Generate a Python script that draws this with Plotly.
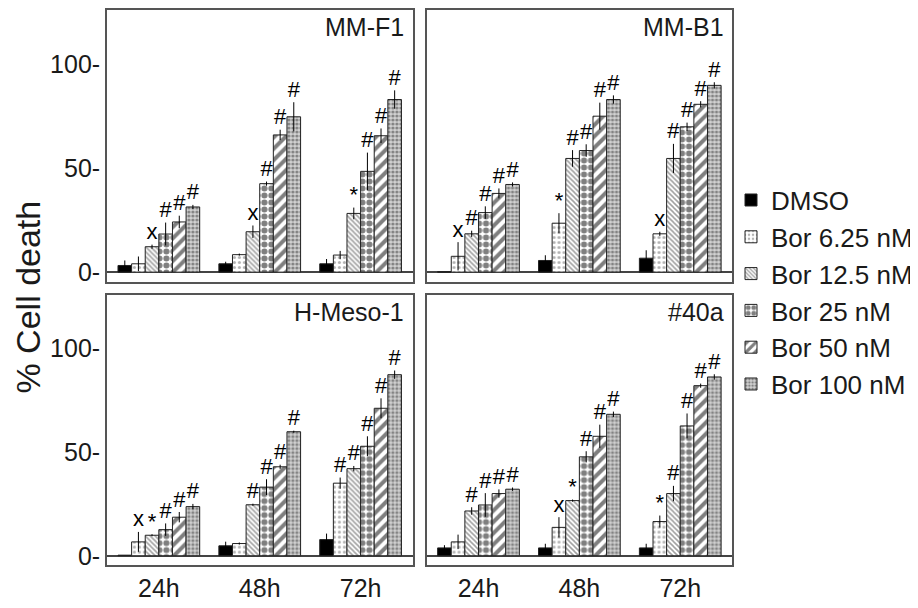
import numpy as np
import plotly.graph_objects as go
from plotly.subplots import make_subplots

times = ["24h", "48h", "72h"]
series_names = ["DMSO", "Bor 6.25 nM", "Bor 12.5 nM", "Bor 25 nM", "Bor 50 nM", "Bor 100 nM"]
panels = ["MM-F1", "MM-B1", "H-Meso-1", "#40a"]

# values[panel][series] -> [24h, 48h, 72h]
mmf1_vals = [[3.2, 4.0, 4.0], [4.0, 8.4, 8.2], [12.2, 19.4, 28.2], [18.3, 42.5, 48.4], [24.1, 65.9, 65.5], [31.3, 74.6, 82.9]]
mmf1_err = [[2.4, 1.0, 2.3], [3.5, 0.5, 2.0], [1.0, 3.0, 2.8], [5.5, 1.0, 9.0], [3.0, 2.5, 3.5], [1.0, 7.0, 4.4]]
mmf1_sig = [["", "", ""], ["", "", ""], ["x", "x", "*"], ["#", "#", "#"], ["#", "#", "#"], ["#", "#", "#"]]

mmb1_vals = [[0.2, 5.6, 6.7], [7.6, 23.5, 18.4], [18.4, 54.6, 54.6], [28.6, 58.4, 69.8], [37.8, 74.9, 80.6], [42.1, 82.9, 89.7]]
mmb1_err = [[0.0, 2.5, 3.8], [6.8, 4.8, 1.0], [1.5, 4.0, 7.0], [3.0, 3.0, 2.0], [2.4, 6.5, 1.5], [1.0, 2.0, 1.5]]
mmb1_sig = [["", "", ""], ["x", "*", "x"], ["#", "#", "#"], ["#", "#", "#"], ["#", "#", "#"], ["#", "#", "#"]]

hmeso_vals = [[0.3, 4.8, 7.8], [6.7, 5.9, 35.0], [9.9, 24.6, 42.0], [12.6, 33.1, 52.8], [18.6, 42.9, 71.1], [23.7, 59.8, 87.3]]
hmeso_err = [[0.0, 2.0, 2.9], [4.8, 0.5, 2.7], [0.5, 0.5, 1.3], [3.0, 3.8, 4.8], [2.5, 1.0, 4.8], [1.3, 0.5, 2.0]]
hmeso_sig = [["", "", ""], ["x", "", "#"], ["*", "#", "#"], ["#", "#", "#"], ["#", "#", "#"], ["#", "#", "#"]]

a40_vals = [[3.8, 3.8, 3.8], [6.7, 13.7, 16.5], [21.6, 26.6, 30.0], [24.5, 47.7, 62.6], [30.0, 57.6, 82.0], [32.1, 68.2, 86.2]]
a40_err = [[1.3, 2.0, 2.0], [3.5, 4.9, 2.9], [1.8, 0.5, 3.7], [5.7, 2.7, 6.0], [2.0, 5.6, 1.0], [0.8, 1.3, 1.3]]
a40_sig = [["", "", ""], ["", "x", "*"], ["#", "*", "#"], ["#", "#", "#"], ["#", "#", "#"], ["#", "#", "#"]]

yticks = [0, 50, 100]
ytick_labels = ["0-", "50-", "100-"]

all_vals = [mmf1_vals, mmb1_vals, hmeso_vals, a40_vals]
all_err = [mmf1_err, mmb1_err, hmeso_err, a40_err]
all_sig = [mmf1_sig, mmb1_sig, hmeso_sig, a40_sig]

FONT = "Arial, Liberation Sans, sans-serif"
TXT = "#1a1a1a"

fills = [
    dict(color="black"),
    dict(color="white", pattern=dict(shape=".", fgcolor="#666", bgcolor="white", size=5, solidity=0.3)),
    dict(color="white", pattern=dict(shape="\\", fgcolor="#444", bgcolor="white", size=3.5, solidity=0.45)),
    dict(color="white", pattern=dict(shape=".", fgcolor="black", bgcolor="white", size=7, solidity=0.6)),
    dict(color="white", pattern=dict(shape="/", fgcolor="black", bgcolor="white", size=8, solidity=0.5)),
    dict(color="white", pattern=dict(shape=".", fgcolor="#333", bgcolor="#d2d2d2", size=4, solidity=0.5)),
]

fig = make_subplots(rows=2, cols=2)

# the page body has an 8px margin; figure coords = page coords - 8
FW = 910.0
FH = 600.0
xdoms = [[99 / FW, 405 / FW], [419 / FW, 725 / FW]]
ydoms = [[1 - 275 / FH, 1 - 1 / FH], [1 - 561 / FH, 1 - 288 / FH]]

bw = 0.135
xbase = np.arange(len(times))

for p in range(4):
    r = p // 2 + 1
    c = p % 2 + 1
    for s in range(6):
        xs = xbase + (s - 2.5) * bw
        fig.add_trace(go.Bar(
            x=xs, y=all_vals[p][s], width=bw,
            marker=dict(line=dict(color="#222", width=1), **fills[s]),
            error_y=dict(type="data", array=all_err[p][s], visible=True, color="black", thickness=1, width=0),
            name=series_names[s], legendgroup=series_names[s], showlegend=(p == 0),
        ), row=r, col=c)
        tops = np.array(all_vals[p][s]) + np.array(all_err[p][s])
        fig.add_trace(go.Scatter(
            x=xs, y=tops, mode="text", text=all_sig[p][s], textposition="top center",
            textfont=dict(family=FONT, size=22, color="black"), showlegend=False, hoverinfo="skip",
        ), row=r, col=c)

for p in range(4):
    r = p // 2 + 1
    c = p % 2 + 1
    idx = p + 1
    xa = "xaxis" if idx == 1 else f"xaxis{idx}"
    ya = "yaxis" if idx == 1 else f"yaxis{idx}"
    fig.layout[xa].update(
        domain=xdoms[c - 1], range=[-0.515, 2.515], tickvals=list(xbase), ticktext=times,
        showticklabels=(r == 2), ticks="", showline=True, mirror=True, linecolor="#555", linewidth=1.5,
        showgrid=False, zeroline=False, tickfont=dict(family=FONT, size=25, color=TXT),
    )
    fig.layout[ya].update(
        domain=ydoms[r - 1], range=[-4.6, 125.9], tickvals=yticks, ticktext=ytick_labels,
        showticklabels=(c == 1), ticks="", showline=True, mirror=True, linecolor="#555", linewidth=1.5,
        showgrid=False, zeroline=True, zerolinecolor="#444", zerolinewidth=1.5,
        tickfont=dict(family=FONT, size=25, color=TXT), ticklabelstandoff=0,
    )
    fig.add_annotation(
        text=panels[p], xref=f"{'x' if idx == 1 else 'x' + str(idx)} domain",
        yref=f"{'y' if idx == 1 else 'y' + str(idx)} domain",
        x=0.98, y=0.995, xanchor="right", yanchor="top", showarrow=False,
        font=dict(family=FONT, size=25, color=TXT),
    )

fig.add_annotation(
    text="% Cell death", xref="paper", yref="paper", x=20 / FW, y=1 - 290 / FH,
    textangle=-90, showarrow=False, font=dict(family=FONT, size=34, color=TXT),
    xanchor="center", yanchor="middle",
)

fig.update_layout(
    width=910, height=600, margin=dict(l=0, r=0, t=0, b=0),
    paper_bgcolor="white", plot_bgcolor="white", barmode="overlay",
    showlegend=True,
    legend=dict(x=724 / FW, y=1 - 169 / FH, xanchor="left", yanchor="top",
                font=dict(family=FONT, size=26, color=TXT), tracegroupgap=0,
                bgcolor="rgba(0,0,0,0)"),
    font=dict(family=FONT),
)

fig.write_html("out.html")
